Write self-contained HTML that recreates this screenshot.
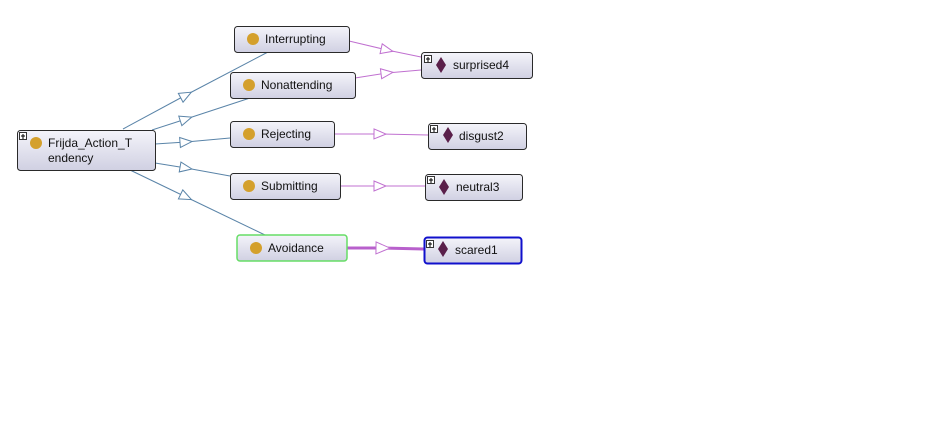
<!DOCTYPE html>
<html><head><meta charset="utf-8"><style>
html,body{margin:0;padding:0;background:#fff;width:939px;height:438px;overflow:hidden}
text{font-family:"Liberation Sans",sans-serif;font-size:12px;fill:#111}
</style></head><body>
<svg width="939" height="438" viewBox="0 0 939 438" xmlns="http://www.w3.org/2000/svg">
<defs>
<linearGradient id="g" x1="0" y1="0" x2="0" y2="1">
<stop offset="0" stop-color="#f4f4fa"/><stop offset="1" stop-color="#d0d0e2"/>
</linearGradient>
<marker id="ab" viewBox="-1 -6 14 12" markerWidth="14" markerHeight="12" refX="6" refY="0" orient="auto" markerUnits="userSpaceOnUse">
<path d="M0,-5 L12,0 L0,5 Z" fill="#fff" stroke="#5a84a8" stroke-width="1"/></marker>
<marker id="ap" viewBox="-1 -6 14 12" markerWidth="14" markerHeight="12" refX="6" refY="0" orient="auto" markerUnits="userSpaceOnUse">
<path d="M0,-5 L12,0 L0,5 Z" fill="#fff" stroke="#c070d0" stroke-width="1"/></marker>
<marker id="apt" viewBox="-1 -7 16 14" markerWidth="16" markerHeight="14" refX="6" refY="0" orient="auto" markerUnits="userSpaceOnUse">
<path d="M0,-6 L14,0 L0,6 Z" fill="#fff" stroke="#c070d0" stroke-width="1"/></marker>
</defs>
<g fill="none" stroke="#5a84a8" stroke-width="1">
<polyline points="123,129 186,95 268,52" marker-mid="url(#ab)"/>
<polyline points="152,130 186,119 250,98" marker-mid="url(#ab)"/>
<polyline points="155,144 186,142 230,138" marker-mid="url(#ab)"/>
<polyline points="155,163 186,168 230,176" marker-mid="url(#ab)"/>
<polyline points="130,170 186,197 265,235" marker-mid="url(#ab)"/>
</g>
<g fill="none" stroke="#c070d0" stroke-width="1">
<polyline points="349,41 387,50 421,57" marker-mid="url(#ap)"/>
<polyline points="355,78 387,73 421,70" marker-mid="url(#ap)"/>
<polyline points="334,134 380,134 428,135" marker-mid="url(#ap)"/>
<polyline points="340,186 380,186 425,186" marker-mid="url(#ap)"/>
<polyline points="347,248 382,248 424,249" stroke-width="3" stroke="#b860cc" marker-mid="url(#apt)"/>
</g>
<g stroke="#2a2a2a" stroke-width="1" fill="url(#g)">
<rect x="17.5" y="130.5" width="138" height="40" rx="3"/>
<rect x="234.5" y="26.5" width="115" height="26" rx="3"/>
<rect x="230.5" y="72.5" width="125" height="26" rx="3"/>
<rect x="230.5" y="121.5" width="104" height="26" rx="3"/>
<rect x="230.5" y="173.5" width="110" height="26" rx="3"/>
<rect x="237" y="235" width="110" height="26" rx="3" stroke="#66dd66" stroke-width="1.5"/>
<rect x="421.5" y="52.5" width="111" height="26" rx="3"/>
<rect x="428.5" y="123.5" width="98" height="26" rx="3"/>
<rect x="425.5" y="174.5" width="97" height="26" rx="3"/>
<rect x="424.5" y="237.5" width="97" height="26" rx="3" stroke="#1010cc" stroke-width="2"/>
</g>
<g fill="#d4a02c">
<circle cx="36" cy="143" r="6"/>
<circle cx="253" cy="39" r="6"/>
<circle cx="249" cy="85" r="6"/>
<circle cx="249" cy="134" r="6"/>
<circle cx="249" cy="186" r="6"/>
<circle cx="256" cy="248" r="6"/>
</g>
<g fill="#5a1f4a">
<path d="M441,57 l5,8 l-5,8 l-5,-8z"/>
<path d="M448,127 l5,8 l-5,8 l-5,-8z"/>
<path d="M444,179 l5,8 l-5,8 l-5,-8z"/>
<path d="M443,241 l5,8 l-5,8 l-5,-8z"/>
</g>
<g fill="#fff" stroke="#333" stroke-width="1">
<rect x="19.5" y="132.5" width="7" height="7"/>
<rect x="424.5" y="55.5" width="7" height="7"/>
<rect x="430.5" y="125.5" width="7" height="7"/>
<rect x="427.5" y="176.5" width="7" height="7"/>
<rect x="426.5" y="240.5" width="7" height="7"/>
</g>
<g stroke="#000" stroke-width="1">
<path d="M21,136h4M23,134v5"/>
<path d="M426,59h4M428,57v5"/>
<path d="M432,129h4M434,127v5"/>
<path d="M429,180h4M431,178v5"/>
<path d="M428,244h4M430,242v5"/>
</g>
<text x="48" y="147">Frijda_Action_T</text>
<text x="48" y="162">endency</text>
<text x="265" y="43">Interrupting</text>
<text x="261" y="89">Nonattending</text>
<text x="261" y="138">Rejecting</text>
<text x="261" y="190">Submitting</text>
<text x="268" y="252">Avoidance</text>
<text x="453" y="69">surprised4</text>
<text x="459" y="140">disgust2</text>
<text x="456" y="191">neutral3</text>
<text x="455" y="254">scared1</text>
</svg>
</body></html>
